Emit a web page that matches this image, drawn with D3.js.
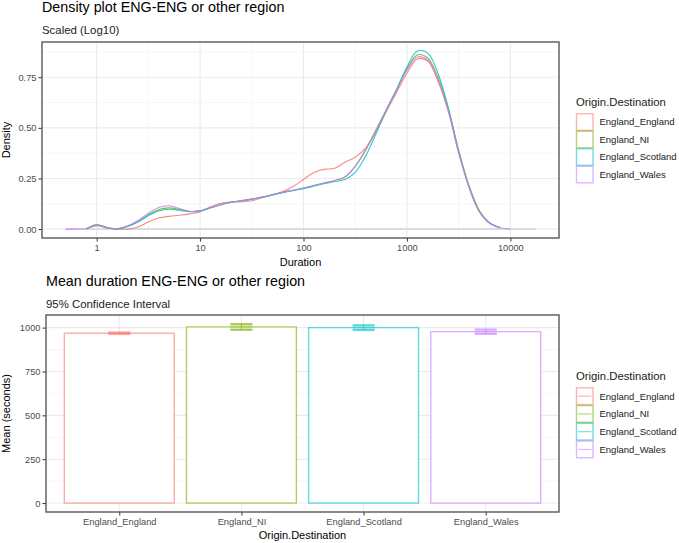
<!DOCTYPE html>
<html>
<head>
<meta charset="utf-8">
<script src="https://cdn.jsdelivr.net/npm/d3@7"></script>
<style>
  body { margin: 0; background: #fff; }
  text { font-family: "Liberation Sans", Arial, sans-serif; }
</style>
</head>
<body>
<div id="chart"></div>
<script>
// groups and colours (ggplot default hue)
var regions = ["England_England", "England_NI", "England_Scotland", "England_Wales"];
var colors = ["#F8766D", "#7CAE00", "#00BFC4", "#C77CFF"];

// density plot: durations (seconds, log spaced) and density per group
var durations = [0.5, 0.63, 0.79, 1, 1.26, 1.58, 2, 2.51, 3.16, 3.98, 5.01, 6.31, 7.94,
  10, 12.6, 15.8, 20, 25.1, 31.6, 39.8, 50.1, 63.1, 79.4, 100, 126, 158, 200, 251, 316,
  398, 501, 631, 794, 1000, 1259, 1585, 1995, 2512, 3162, 3981, 5012, 6310, 7943, 10000];
var densEngland = [null, null, 0.0, 0.017, 0.006, 0.0, 0.0, 0.01, 0.035, 0.055, 0.063, 0.068, 0.075,
  0.085, 0.11, 0.128, 0.134, 0.135, 0.14, 0.155, 0.17, 0.185, 0.21, 0.245, 0.28, 0.295, 0.30,
  0.33, 0.355, 0.40, 0.48, 0.58, 0.675, 0.77, 0.84, 0.83, 0.73, 0.58, 0.375, 0.205, 0.085,
  0.028, 0.006, null];
var densNI = [null, null, 0.0, 0.022, 0.008, 0.002, 0.015, 0.038, 0.07, 0.097, 0.105, 0.097, 0.087,
  0.09, 0.105, 0.12, 0.133, 0.14, 0.148, 0.158, 0.17, 0.182, 0.192, 0.203, 0.215, 0.228, 0.24,
  0.257, 0.31, 0.39, 0.49, 0.59, 0.69, 0.79, 0.86, 0.845, 0.75, 0.595, 0.39, 0.215, 0.092,
  0.032, 0.008, null];
var densScotland = [null, null, 0.0, 0.018, 0.006, 0.001, 0.013, 0.035, 0.066, 0.09, 0.098, 0.093, 0.086,
  0.09, 0.105, 0.12, 0.133, 0.14, 0.148, 0.157, 0.168, 0.18, 0.19, 0.2, 0.212, 0.224, 0.235,
  0.245, 0.28, 0.36, 0.47, 0.585, 0.69, 0.8, 0.88, 0.87, 0.77, 0.6, 0.385, 0.21, 0.088,
  0.03, 0.007, null];
var densWales = [0.0, 0.0, 0.003, 0.02, 0.008, 0.002, 0.016, 0.042, 0.078, 0.107, 0.115, 0.102, 0.088,
  0.09, 0.105, 0.12, 0.133, 0.14, 0.148, 0.158, 0.17, 0.182, 0.192, 0.203, 0.215, 0.228, 0.24,
  0.257, 0.31, 0.39, 0.485, 0.585, 0.685, 0.785, 0.85, 0.835, 0.74, 0.585, 0.38, 0.21, 0.088,
  0.03, 0.007, 0.0];
var durationRange = [0.5, 17500];   // extent of the raw durations

// mean duration with 95% CI
var meanDuration = [968, 1004, 1000, 977];
var ciLower = [963, 987, 986, 964];
var ciUpper = [973, 1021, 1014, 990];

var densTicks = [0, 0.25, 0.5, 0.75];
var durTicks = [1, 10, 100, 1000, 10000];
var meanTicks = [0, 250, 500, 750, 1000];

var W = 679, H = 543;
var svg = d3.select("#chart").append("svg").attr("width", W).attr("height", H);

var gridCol = "#ebebeb", minorCol = "#f4f4f4", borderCol = "#595959", tickCol = "#4d4d4d";

function drawLegend(top, titleY, mode) {
  var g = svg.append("g");
  g.append("text").attr("x", 576).attr("y", titleY).attr("font-size", 11.3).attr("fill", "#1a1a1a")
    .text("Origin.Destination");
  var kh = mode === "bar" ? 17.75 : 17.5;
  regions.forEach(function (r, i) {
    var y = top + i * kh;
    g.append("rect").attr("x", 576.5).attr("y", y + 0.5).attr("width", 16.5).attr("height", kh - 1)
      .attr("fill", "#fff").attr("stroke", colors[i]).attr("stroke-opacity", 0.55).attr("stroke-width", 1.4);
    if (mode === "bar") {
      g.append("line").attr("x1", 578).attr("x2", 591.5).attr("y1", y + kh / 2).attr("y2", y + kh / 2)
        .attr("stroke", colors[i]).attr("stroke-opacity", 0.55).attr("stroke-width", 1.1);
    }
    g.append("text").attr("x", 599.5).attr("y", y + kh / 2 + 3.4).attr("font-size", 9.5)
      .attr("fill", "#1a1a1a").text(r);
  });
}

// ---------- density panel ----------
(function () {
  var L = 42, R = 559, T = 42, B = 238;
  var lr = durationRange.map(Math.log10);
  var pad = (lr[1] - lr[0]) * 0.05;
  var x = d3.scaleLog().domain([Math.pow(10, lr[0] - pad), Math.pow(10, lr[1] + pad)]).range([L, R]);
  var all = densEngland.concat(densNI, densScotland, densWales).filter(function (v) { return v != null; });
  var ymax = d3.max(all);
  var y = d3.scaleLinear().domain([-ymax * 0.05, ymax * 1.05]).range([B, T]);

  var g = svg.append("g");
  // minor grid
  [0.125, 0.375, 0.625, 0.875].forEach(function (v) {
    g.append("line").attr("x1", L).attr("x2", R).attr("y1", y(v)).attr("y2", y(v))
      .attr("stroke", minorCol).attr("stroke-width", 0.8);
  });
  [Math.sqrt(10), Math.sqrt(10) * 10, Math.sqrt(10) * 100, Math.sqrt(10) * 1000].forEach(function (v) {
    g.append("line").attr("x1", x(v)).attr("x2", x(v)).attr("y1", T).attr("y2", B)
      .attr("stroke", minorCol).attr("stroke-width", 0.8);
  });
  densTicks.forEach(function (v) {
    g.append("line").attr("x1", L).attr("x2", R).attr("y1", y(v)).attr("y2", y(v))
      .attr("stroke", gridCol).attr("stroke-width", 1.1);
  });
  durTicks.forEach(function (v) {
    g.append("line").attr("x1", x(v)).attr("x2", x(v)).attr("y1", T).attr("y2", B)
      .attr("stroke", gridCol).attr("stroke-width", 1.1);
  });

  // baseline of the densities
  g.append("line").attr("x1", x(durationRange[0])).attr("x2", x(durationRange[1]))
    .attr("y1", y(0)).attr("y2", y(0)).attr("stroke", "#dcdcdc").attr("stroke-width", 2);

  var line = d3.line()
    .defined(function (d) { return d[1] != null; })
    .x(function (d) { return x(d[0]); })
    .y(function (d) { return y(d[1]); })
    .curve(d3.curveCatmullRom.alpha(0.5));
  [densEngland, densNI, densScotland, densWales].forEach(function (s, i) {
    g.append("path").datum(durations.map(function (d, j) { return [d, s[j]]; }))
      .attr("d", line).attr("fill", "none").attr("stroke", colors[i])
      .attr("stroke-opacity", 0.85).attr("stroke-width", 1.1);
  });

  // axes
  var ya = svg.append("g").attr("transform", "translate(" + L + ",0)")
    .call(d3.axisLeft(y).tickValues(densTicks).tickFormat(d3.format(".2f")).tickSize(3.5).tickPadding(2));
  var xa = svg.append("g").attr("transform", "translate(0," + B + ")")
    .call(d3.axisBottom(x).tickValues(durTicks).tickFormat(d3.format("d")).tickSize(3.5).tickPadding(3));
  [ya, xa].forEach(function (a) {
    a.select(".domain").remove();
    a.selectAll(".tick line").attr("stroke", "#333");
    a.selectAll(".tick text").attr("fill", tickCol).attr("font-size", 9.3)
      .attr("font-family", "Liberation Sans, Arial, sans-serif");
  });

  svg.append("rect").attr("x", L).attr("y", T).attr("width", R - L).attr("height", B - T)
    .attr("fill", "none").attr("stroke", borderCol).attr("stroke-width", 1.4);

  svg.append("text").attr("x", 42).attr("y", 12).attr("font-size", 14.3).attr("fill", "#000")
    .text("Density plot ENG-ENG or other region");
  svg.append("text").attr("x", 42).attr("y", 34.3).attr("font-size", 11.4).attr("fill", "#1a1a1a")
    .text("Scaled (Log10)");
  svg.append("text").attr("x", (L + R) / 2).attr("y", 265.5).attr("text-anchor", "middle")
    .attr("font-size", 11).attr("fill", "#000").text("Duration");
  svg.append("text").attr("transform", "translate(9.5," + ((T + B) / 2) + ") rotate(-90)")
    .attr("text-anchor", "middle").attr("font-size", 11).attr("fill", "#000").text("Density");

  drawLegend(113.3, 105.5, "density");
})();

// ---------- mean duration panel ----------
(function () {
  var L = 46, R = 559, T = 315, B = 512;
  var x = d3.scaleLinear().domain([0.4, regions.length + 0.6]).range([L, R]);
  var ymax = d3.max(ciUpper);
  var y = d3.scaleLinear().domain([-ymax * 0.05, ymax * 1.05]).range([B, T]);

  var g = svg.append("g");
  [125, 375, 625, 875].forEach(function (v) {
    g.append("line").attr("x1", L).attr("x2", R).attr("y1", y(v)).attr("y2", y(v))
      .attr("stroke", minorCol).attr("stroke-width", 0.8);
  });
  meanTicks.forEach(function (v) {
    g.append("line").attr("x1", L).attr("x2", R).attr("y1", y(v)).attr("y2", y(v))
      .attr("stroke", gridCol).attr("stroke-width", 1.1);
  });
  regions.forEach(function (r, i) {
    g.append("line").attr("x1", x(i + 1)).attr("x2", x(i + 1)).attr("y1", T).attr("y2", B)
      .attr("stroke", gridCol).attr("stroke-width", 1.1);
  });

  // bars
  g.selectAll("rect.bar").data(meanDuration).enter().append("rect").attr("class", "bar")
    .attr("x", function (d, i) { return x(i + 1 - 0.45); })
    .attr("width", x(0.9) - x(0))
    .attr("y", function (d) { return y(d); })
    .attr("height", function (d) { return y(0) - y(d); })
    .attr("fill", "#fff")
    .attr("stroke", function (d, i) { return colors[i]; })
    .attr("stroke-opacity", 0.6).attr("stroke-width", 1.4);

  // error bars
  var ew = 0.09;
  regions.forEach(function (r, i) {
    var eg = g.append("g").attr("stroke", colors[i]).attr("stroke-opacity", 0.6).attr("stroke-width", 2);
    eg.append("line").attr("x1", x(i + 1 - ew)).attr("x2", x(i + 1 + ew))
      .attr("y1", y(ciUpper[i])).attr("y2", y(ciUpper[i]));
    eg.append("line").attr("x1", x(i + 1 - ew)).attr("x2", x(i + 1 + ew))
      .attr("y1", y(ciLower[i])).attr("y2", y(ciLower[i]));
    eg.append("line").attr("x1", x(i + 1)).attr("x2", x(i + 1))
      .attr("y1", y(ciUpper[i])).attr("y2", y(ciLower[i])).attr("stroke-width", 1);
    eg.append("rect").attr("x", x(i + 1 - ew)).attr("width", x(2 * ew) - x(0))
      .attr("y", y(ciUpper[i])).attr("height", y(ciLower[i]) - y(ciUpper[i]))
      .attr("fill", colors[i]).attr("fill-opacity", 0.25).attr("stroke", "none");
  });

  var ya = svg.append("g").attr("transform", "translate(" + L + ",0)")
    .call(d3.axisLeft(y).tickValues(meanTicks).tickFormat(d3.format("d")).tickSize(3.5).tickPadding(2));
  var xa = svg.append("g").attr("transform", "translate(0," + B + ")")
    .call(d3.axisBottom(x).tickValues([1, 2, 3, 4]).tickFormat(function (d) { return regions[d - 1]; })
      .tickSize(3.5).tickPadding(3));
  [ya, xa].forEach(function (a) {
    a.select(".domain").remove();
    a.selectAll(".tick line").attr("stroke", "#333");
    a.selectAll(".tick text").attr("fill", tickCol).attr("font-size", 9.3)
      .attr("font-family", "Liberation Sans, Arial, sans-serif");
  });

  svg.append("rect").attr("x", L).attr("y", T).attr("width", R - L).attr("height", B - T)
    .attr("fill", "none").attr("stroke", borderCol).attr("stroke-width", 1.4);

  svg.append("text").attr("x", 46).attr("y", 286.3).attr("font-size", 14.3).attr("fill", "#000")
    .text("Mean duration ENG-ENG or other region");
  svg.append("text").attr("x", 46).attr("y", 308).attr("font-size", 11.4).attr("fill", "#1a1a1a")
    .text("95% Confidence Interval");
  svg.append("text").attr("x", (L + R) / 2).attr("y", 539).attr("text-anchor", "middle")
    .attr("font-size", 11).attr("fill", "#000").text("Origin.Destination");
  svg.append("text").attr("transform", "translate(10," + ((T + B) / 2) + ") rotate(-90)")
    .attr("text-anchor", "middle").attr("font-size", 11).attr("fill", "#000").text("Mean (seconds)");

  drawLegend(387.3, 379.8, "bar");
})();
</script>
</body>
</html>
